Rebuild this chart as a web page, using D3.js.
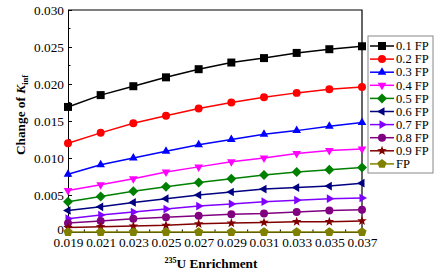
<!DOCTYPE html>
<html><head><meta charset="utf-8">
<script src="https://cdn.jsdelivr.net/npm/d3@7"></script>
<style>body{margin:0;background:#fff}svg{display:block}</style>
</head><body>
<svg id="c" width="447" height="278"></svg>
<script>
const enrichment = [0.019,0.021,0.023,0.025,0.027,0.029,0.031,0.033,0.035,0.037];
const seriesNames = ["0.1 FP","0.2 FP","0.3 FP","0.4 FP","0.5 FP","0.6 FP","0.7 FP","0.8 FP","0.9 FP","FP"];
const s01 = [0.0169,0.0185,0.0197,0.0209,0.0220,0.0229,0.0235,0.0242,0.0247,0.0251];
const s02 = [0.0120,0.0134,0.0147,0.0157,0.0167,0.0175,0.0182,0.0188,0.0193,0.0196];
const s03 = [0.0078,0.0091,0.0100,0.0109,0.0118,0.0125,0.0132,0.0137,0.0143,0.0148];
const s04 = [0.0056,0.0064,0.0072,0.0081,0.0088,0.0095,0.0100,0.0106,0.0110,0.0112];
const s05 = [0.0041,0.0048,0.0055,0.0061,0.0067,0.0072,0.0077,0.0081,0.0084,0.0087];
const s06 = [0.0029,0.0034,0.0040,0.0045,0.0050,0.0054,0.0058,0.0060,0.0062,0.0066];
const s07 = [0.0018,0.0023,0.0027,0.0031,0.0035,0.0038,0.0041,0.0043,0.0045,0.0046];
const s08 = [0.0012,0.0015,0.0018,0.0020,0.0022,0.0024,0.0025,0.0027,0.0029,0.0030];
const s09 = [0.0006,0.0007,0.0008,0.0009,0.0011,0.0012,0.0013,0.0014,0.0014,0.0015];
const s10 = [0,0,0,0,0,0,0,0,0,0];
const allSeries = [s01,s02,s03,s04,s05,s06,s07,s08,s09,s10];
const colors = ["#000000","#ff0000","#0000ff","#ff00ff","#008000","#000080","#8000ff","#800080","#800000","#808000"];
const yTicks = [0,0.005,0.010,0.015,0.020,0.025,0.030];
const yTickLabels = ["0","0.005","0.010","0.015","0.020","0.025","0.030"];
const xTickLabels = ["0.019","0.021","0.023","0.025","0.027","0.029","0.031","0.033","0.035","0.037"];

const FONT = "Liberation Serif, Times New Roman, Times, Tinos, DejaVu Serif, Noto Serif, serif";
const FS = "13.3px";
const svg = d3.select("#c").style("font-family",FONT);
const L=68,R=362,T=10,B=232;
const x = d3.scaleLinear().domain([0.019,0.037]).range([L,R]);
const y = d3.scaleLinear().domain([0,0.030]).range([B,T]);

function star(r){const p=[];for(let i=0;i<10;i++){const a=-Math.PI/2+i*Math.PI/5;const rr=i%2?r*0.42:r;p.push([rr*Math.cos(a),rr*Math.sin(a)]);}return "M"+p.join("L")+"Z";}
function poly(n,r,rot){const p=[];for(let i=0;i<n;i++){const a=rot+i*2*Math.PI/n;p.push([r*Math.cos(a),r*Math.sin(a)]);}return "M"+p.join("L")+"Z";}
const markers = [
  "M-4,-4H4V4H-4Z",
  d3.symbol(d3.symbolCircle,50)(),
  poly(3,5,-Math.PI/2),
  poly(3,5,Math.PI/2),
  poly(4,5,-Math.PI/2),
  poly(3,5,Math.PI),
  poly(3,5,0),
  d3.symbol(d3.symbolCircle,50)(),
  star(5),
  poly(5,4.8,-Math.PI/2)
];

// axes
const yAxis = d3.axisLeft(y).tickValues(yTicks).tickFormat((d,i)=>yTickLabels[i]).tickSizeInner(-4).tickSizeOuter(0).tickPadding(4);
const gy = svg.append("g").attr("transform",`translate(${L},0)`).call(yAxis);
const xAxis = d3.axisBottom(x).tickValues(enrichment).tickFormat((d,i)=>xTickLabels[i]).tickSizeInner(-4).tickSizeOuter(0).tickPadding(6);
const gx = svg.append("g").attr("transform",`translate(0,${B})`).call(xAxis);
[gx,gy].forEach(g=>{g.attr("font-family",null).attr("font-size",null);g.selectAll("text").attr("fill","#000").style("font-family",FONT).style("font-size",FS);g.select(".domain").attr("stroke","#000");g.selectAll(".tick line").attr("stroke","#000");});
gy.selectAll(".tick text").filter((d,i)=>i===0).attr("dy","0.1em");
// minor ticks
const yMinor = d3.range(0,6).map(i=>yTicks[i]+0.0025);
svg.append("g").selectAll("line").data(yMinor).join("line").attr("x1",L).attr("x2",L+2.5).attr("y1",d=>y(d)).attr("y2",d=>y(d)).attr("stroke","#000");
const xMinor = d3.range(0,9).map(i=>enrichment[i]+0.001);
svg.append("g").selectAll("line").data(xMinor).join("line").attr("x1",d=>x(d)).attr("x2",d=>x(d)).attr("y1",B).attr("y2",B-2.5).attr("stroke","#000");
// box top/right
svg.append("path").attr("d",`M${L},${T}H${R}V${B}`).attr("fill","none").attr("stroke","#000").attr("stroke-width",1.2);

// series
const line = d3.line().x((d,i)=>x(enrichment[i])).y(d=>y(d));
allSeries.forEach((s,k)=>{
  svg.append("path").attr("d",line(s)).attr("fill","none").attr("stroke",colors[k]).attr("stroke-width",1.5);
  svg.append("g").selectAll("path").data(s).join("path").attr("d",markers[k])
    .attr("transform",(d,i)=>`translate(${x(enrichment[i])},${y(d)})`).attr("fill",colors[k]);
});

// legend
const lg = svg.append("g");
lg.append("rect").attr("x",368).attr("y",36).attr("width",65).attr("height",137).attr("fill","#fff").attr("stroke","#888").attr("stroke-width",1);
seriesNames.forEach((n,k)=>{
  const yy = 46 + k*13.1;
  lg.append("line").attr("x1",370).attr("x2",394).attr("y1",yy).attr("y2",yy).attr("stroke",colors[k]).attr("stroke-width",1.5);
  lg.append("path").attr("d",markers[k]).attr("transform",`translate(382,${yy})`).attr("fill",colors[k]);
  lg.append("text").attr("x",396).attr("y",yy+4.2).style("font-family",FONT).style("font-size","12.5px").text(n);
});

// titles
const xt = svg.append("text").attr("x",211).attr("y",268).attr("text-anchor","middle").style("font-family",FONT).style("font-weight","bold").style("font-size",FS);
xt.append("tspan").style("font-size","8px").attr("dy",-5).text("235");
xt.append("tspan").attr("dy",5).text("U Enrichment");
const yt = svg.append("text").attr("transform","translate(25,115) rotate(-90)").attr("text-anchor","middle").style("font-family",FONT).style("font-weight","bold").style("font-size",FS);
yt.append("tspan").text("Change of ");
yt.append("tspan").style("font-style","italic").text("K");
yt.append("tspan").style("font-size","8.5px").attr("dy",2.5).text("inf");
</script>
</body></html>
